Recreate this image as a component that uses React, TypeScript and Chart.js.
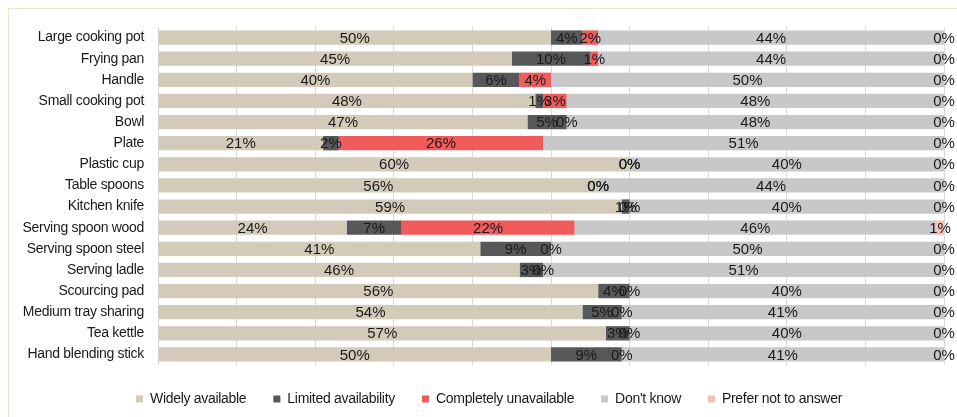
import React, { useEffect, useRef } from "react";
import { Chart, registerables } from "chart.js";

Chart.register(...registerables);

const categories = [
  "Large cooking pot",
  "Frying pan",
  "Handle",
  "Small cooking pot",
  "Bowl",
  "Plate",
  "Plastic cup",
  "Table spoons",
  "Kitchen knife",
  "Serving spoon wood",
  "Serving spoon steel",
  "Serving ladle",
  "Scourcing pad",
  "Medium tray sharing",
  "Tea kettle",
  "Hand blending stick",
];

const seriesNames = [
  "Widely available",
  "Limited availability",
  "Completely unavailable",
  "Don't know",
  "Prefer not to answer",
];

const widelyAvailable = [50, 45, 40, 48, 47, 21, 60, 56, 59, 24, 41, 46, 56, 54, 57, 50];
const limitedAvailability = [4, 10, 6, 1, 5, 2, 0, 0, 1, 7, 9, 3, 4, 5, 3, 9];
const completelyUnavailable = [2, 1, 4, 3, 0, 26, 0, 0, 0, 22, 0, 0, 0, 0, 0, 0];
const dontKnow = [44, 44, 50, 48, 48, 51, 40, 44, 40, 46, 50, 51, 40, 41, 40, 41];
const preferNotToAnswer = [0, 0, 0, 0, 0, 0, 0, 0, 0, 1, 0, 0, 0, 0, 0, 0];

const seriesColors = ["#d3cbb9", "#58585a", "#f05b5b", "#c8c8ca", "#f7bdbd"];

const FONT = '"Liberation Sans", Arial, sans-serif';
const TEXT_COLOR = "#1a1a1a";

const spacingPlugin = {
  id: "letterSpacing",
  beforeLayout(chart: any) {
    chart.ctx.letterSpacing = "-0.3px";
  },
  afterLayout(chart: any) {
    // center the legend under the whole frame rather than the padded area
    if (chart.legend) {
      chart.legend.left += 12.5;
      chart.legend.right += 12.5;
    }
  },
  beforeDraw(chart: any) {
    chart.ctx.letterSpacing = "-0.3px";
  },
};

const segmentLabels = {
  id: "segmentLabels",
  afterDatasetsDraw(chart: any) {
    const ctx = chart.ctx;
    ctx.save();
    ctx.letterSpacing = "0px";
    ctx.font = `15px ${FONT}`;
    ctx.fillStyle = TEXT_COLOR;
    ctx.textAlign = "center";
    ctx.textBaseline = "middle";
    chart.data.datasets.forEach((ds: any, di: number) => {
      const meta = chart.getDatasetMeta(di);
      meta.data.forEach((el: any, i: number) => {
        const v = ds.data[i];
        const x = (el.x + el.base) / 2;
        ctx.fillText(`${v}%`, x, el.y + 1);
      });
    });
    ctx.restore();
  },
};

export default function App() {
  const canvasRef = useRef<HTMLCanvasElement | null>(null);

  useEffect(() => {
    if (!canvasRef.current) return;
    const values = [
      widelyAvailable,
      limitedAvailability,
      completelyUnavailable,
      dontKnow,
      preferNotToAnswer,
    ];
    const chart = new Chart(canvasRef.current, {
      type: "bar",
      data: {
        labels: categories,
        datasets: seriesNames.map((name, i) => ({
          label: name,
          data: values[i],
          backgroundColor: seriesColors[i],
          borderWidth: 0,
          categoryPercentage: 1,
          barPercentage: 0.68,
        })),
      },
      options: {
        indexAxis: "y",
        responsive: false,
        animation: false,
        layout: { padding: { top: 18, left: 0, right: 13, bottom: 1 } },
        scales: {
          x: {
            stacked: true,
            min: 0,
            max: 100,
            ticks: { display: false, stepSize: 10 },
            grid: { color: "#d9d9d9", lineWidth: 1, drawTicks: false },
            border: { display: false },
            afterFit(scale: any) {
              scale.height = 0;
              scale.paddingLeft = 0;
              scale.paddingRight = 0;
            },
          },
          y: {
            stacked: true,
            grid: { display: false, drawTicks: false },
            border: { display: false },
            ticks: {
              padding: 14,
              color: TEXT_COLOR,
              font: { family: FONT, size: 14 },
              autoSkip: false,
            },
            afterFit(scale: any) {
              scale.width = 149;
              scale.paddingTop = 0;
              scale.paddingBottom = 0;
            },
          },
        },
        plugins: {
          legend: {
            position: "bottom",
            labels: {
              boxWidth: 7,
              boxHeight: 7,
              padding: 27,
              color: TEXT_COLOR,
              font: { family: FONT, size: 14 },
            },
          },
          tooltip: { enabled: false },
        },
      },
      plugins: [spacingPlugin, segmentLabels],
    } as any);
    return () => chart.destroy();
  }, []);

  return (
    <div
      style={{
        position: "absolute",
        top: 8,
        left: 8,
        width: 948,
        height: 408,
        borderTop: "1px solid #d8f0d0",
        borderLeft: "1px solid #d8f0d0",
        overflow: "hidden",
      }}
    >
      <canvas
        ref={canvasRef}
        width={948}
        height={408}
        style={{ display: "block", width: 948, height: 408 }}
      />
    </div>
  );
}
